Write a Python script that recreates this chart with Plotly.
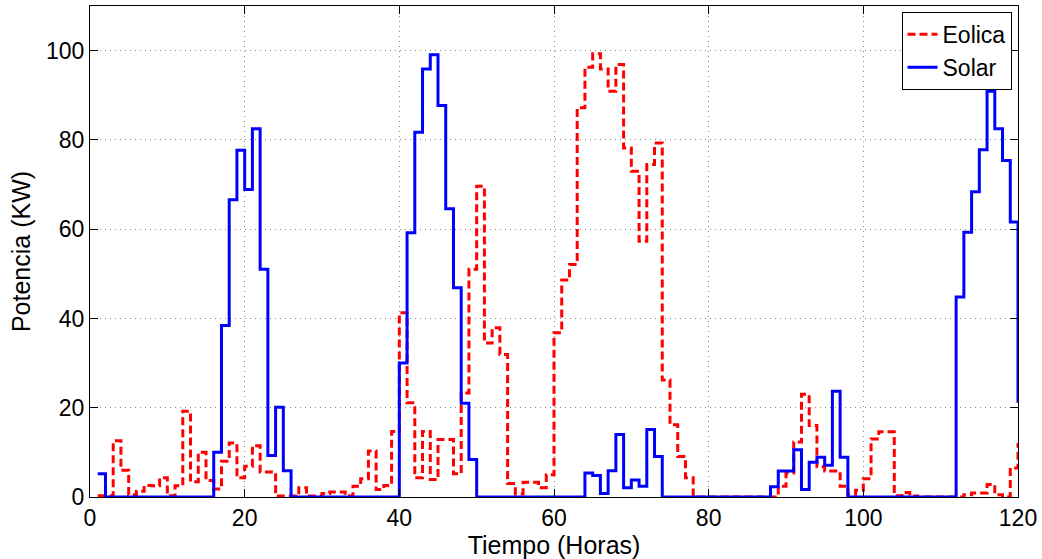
import plotly.graph_objects as go

# Hours 1..120
horas = list(range(1, 121))

eolica = [
    0.3, 0.3, 12.6, 6.0, 0.5, 1.3, 2.6, 2.5, 4.3, 0.3,
    2.5, 19.2, 3.4, 10.0, 3.7, 1.8, 8.0, 12.1, 4.3, 6.9,
    11.5, 5.6, 5.6, 0.2, 0.2, 0.2, 2.1, 0.2, 0.2, 0.8,
    1.1, 1.1, 0.3, 2.4, 4.1, 10.3, 1.7, 2.6, 14.7, 41.3,
    21.1, 4.3, 14.7, 3.9, 12.9, 12.9, 5.2, 23.3, 51.0, 69.6,
    34.5, 37.9, 31.9, 3.0, 0.7, 3.3, 3.3, 2.1, 5.0, 36.8,
    48.6, 52.1, 87.2, 96.3, 99.3, 95.9, 90.9, 96.9, 78.2, 73.0,
    57.3, 74.5, 79.3, 26.2, 16.2, 9.1, 4.3, 0.0, 0.0, 0.0,
    0.0, 0.0, 0.0, 0.0, 0.0, 0.0, 0.0, 0.0, 2.4, 5.4,
    12.3, 23.0, 16.0, 6.8, 5.8, 5.8, 2.4, 0.6, 1.5, 4.1,
    13.0, 14.6, 14.6, 0.3, 1.0, 0.2, 0.0, 0.0, 0.0, 0.0,
    0.0, 0.0, 0.5, 0.9, 0.9, 2.8, 0.5, 0.0, 6.5, 12.1,
]

solar = [
    5.2, 0.0, 0.0, 0.0, 0.0, 0.0, 0.0, 0.0, 0.0, 0.0,
    0.0, 0.0, 0.0, 0.0, 0.0, 10.0, 38.4, 66.6, 77.7, 68.9,
    82.5, 51.0, 9.3, 20.1, 5.9, 0.0, 0.0, 0.0, 0.0, 0.0,
    0.0, 0.0, 0.0, 0.0, 0.0, 0.0, 0.0, 0.0, 0.0, 30.0,
    59.2, 81.7, 95.9, 99.1, 87.7, 64.6, 46.9, 21.0, 8.4, 0.0,
    0.0, 0.0, 0.0, 0.0, 0.0, 0.0, 0.0, 0.0, 0.0, 0.0,
    0.0, 0.0, 0.0, 5.4, 4.8, 0.8, 5.9, 14.0, 2.1, 3.8,
    2.4, 15.1, 9.1, 0.0, 0.0, 0.0, 0.0, 0.0, 0.0, 0.0,
    0.0, 0.0, 0.0, 0.0, 0.0, 0.0, 0.0, 2.3, 5.8, 5.8,
    10.6, 1.7, 7.8, 8.9, 7.1, 23.7, 8.9, 0.0, 0.0, 0.0,
    0.0, 0.0, 0.0, 0.0, 0.0, 0.0, 0.0, 0.0, 0.0, 0.0,
    0.0, 44.8, 59.3, 68.4, 77.8, 90.9, 82.5, 75.4, 61.6, 21.1,
]

x_ticks = [0, 20, 40, 60, 80, 100, 120]
y_ticks = [0, 20, 40, 60, 80, 100]

FONT = "Liberation Sans, Arial, Helvetica, sans-serif"

fig = go.Figure()
fig.add_trace(go.Scatter(
    x=horas, y=eolica, mode="lines", name="Eolica",
    line=dict(shape="hv", color="#ff0000", width=3, dash="8px,4px"),
))
fig.add_trace(go.Scatter(
    x=horas, y=solar, mode="lines", name="Solar",
    line=dict(shape="hv", color="#0000ff", width=3),
))

axis_common = dict(
    showline=True, linecolor="black", linewidth=1, mirror="ticks",
    ticks="inside", ticklen=8, tickcolor="black", tickwidth=1,
    showgrid=True, gridcolor="#8a8a8a", gridwidth=1, griddash="1px,4px",
    zeroline=False, tickfont=dict(family=FONT, size=23, color="black"),
)

fig.update_layout(
    width=1042, height=559,
    margin=dict(l=90, r=24, t=6, b=62),
    paper_bgcolor="white", plot_bgcolor="white",
    font=dict(family=FONT, color="black"),
    xaxis=dict(range=[0, 120], tickvals=x_ticks,
               title=dict(text="Tiempo (Horas)", font=dict(family=FONT, size=25), standoff=0),
               **axis_common),
    yaxis=dict(range=[0, 110], tickvals=y_ticks,
               title=dict(text="Potencia (KW)", font=dict(family=FONT, size=25), standoff=8),
               **axis_common),
    legend=dict(x=0.993, y=0.988, xanchor="right", yanchor="top",
                bgcolor="white", bordercolor="black", borderwidth=1,
                font=dict(family=FONT, size=23), tracegroupgap=0,
                itemwidth=30),
    showlegend=True,
)

fig.write_html("out.html")
